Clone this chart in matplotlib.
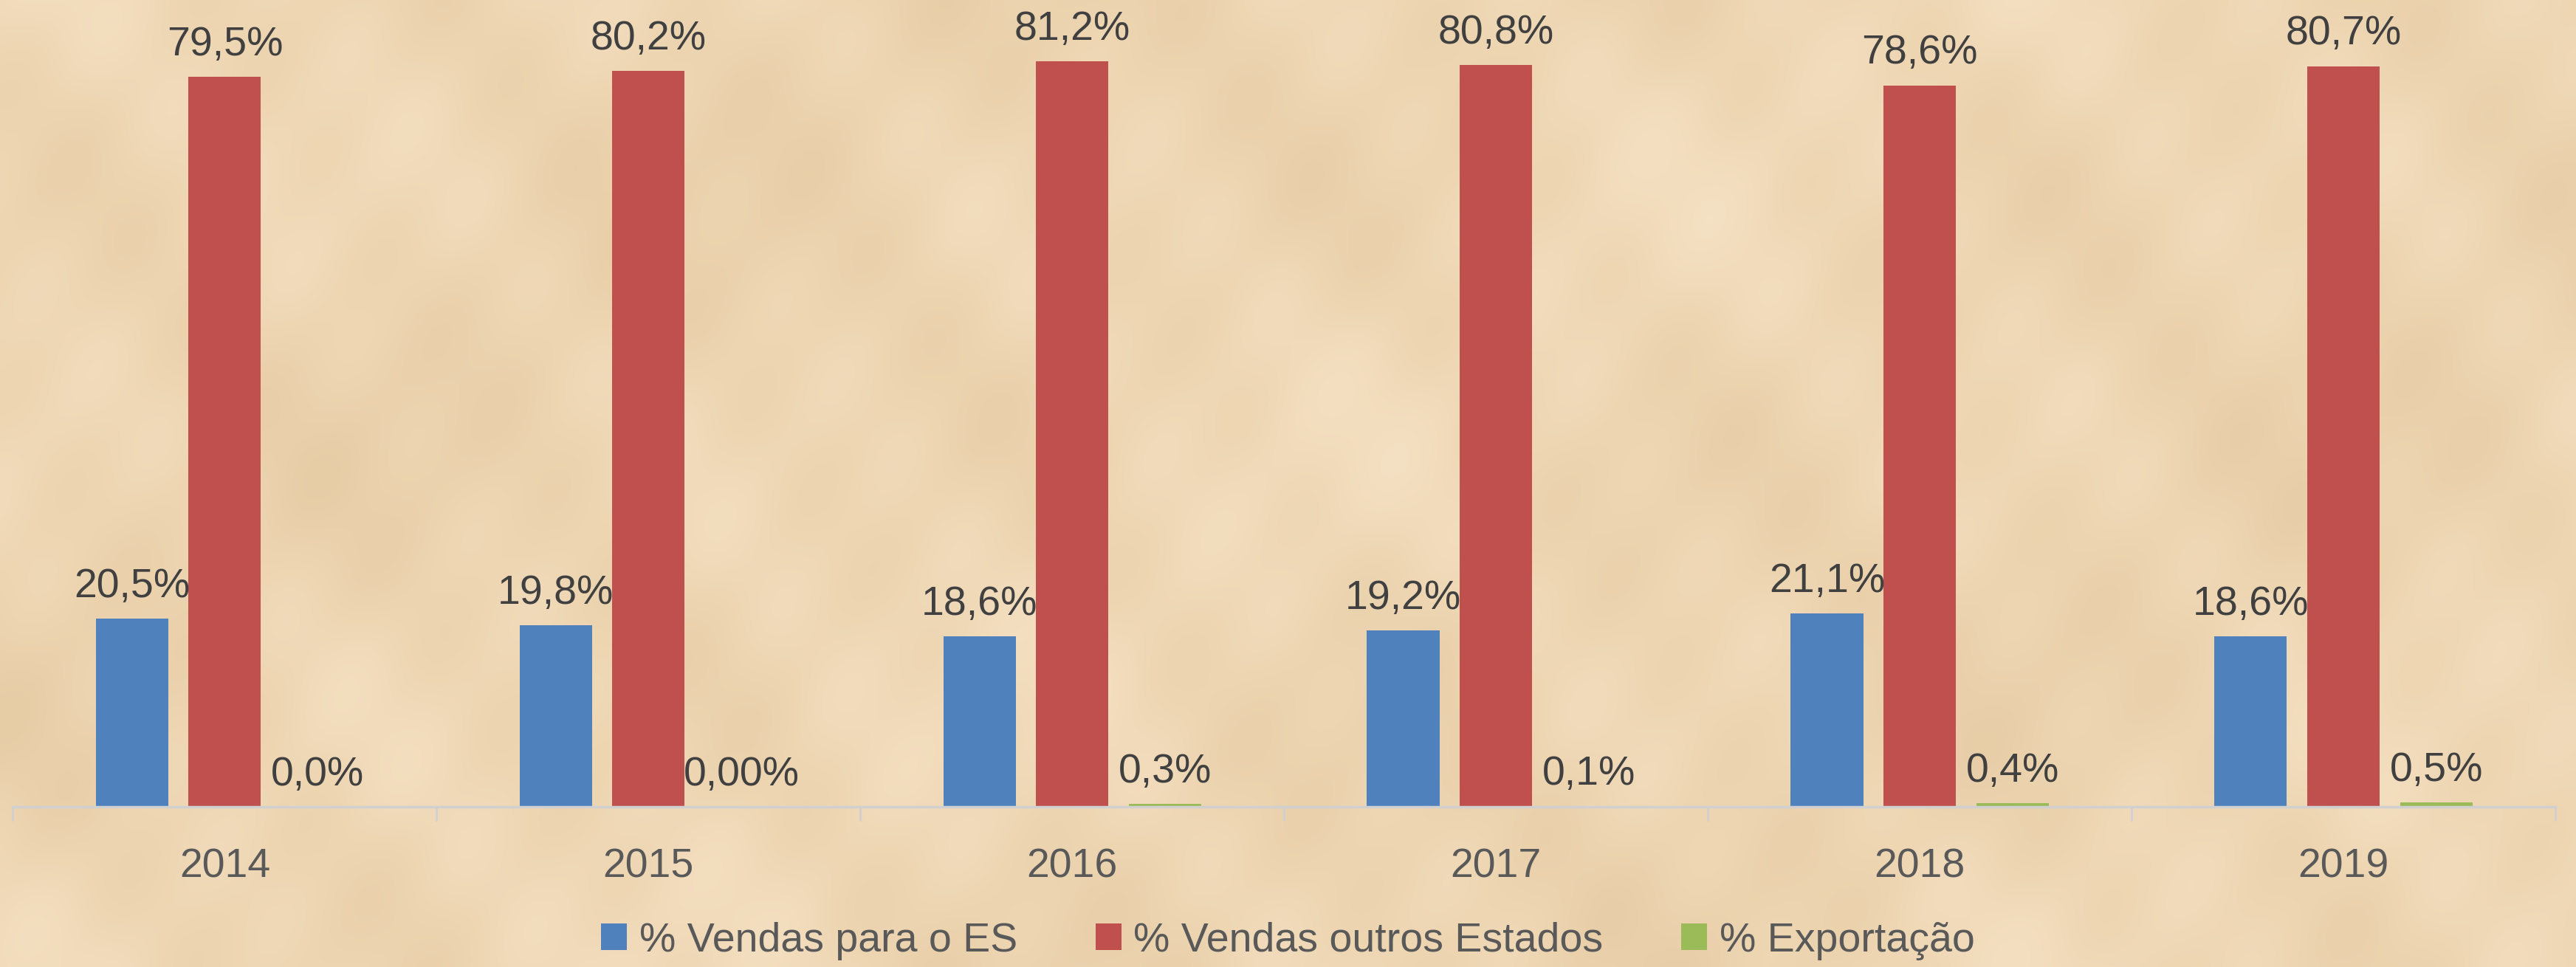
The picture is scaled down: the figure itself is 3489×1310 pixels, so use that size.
import numpy as np
import matplotlib
matplotlib.use('Agg')
import matplotlib.pyplot as plt
from matplotlib.patches import Patch
from matplotlib.colors import LinearSegmentedColormap

# 数据
anos = ['2014', '2015', '2016', '2017', '2018', '2019']
vendas_es = [20.5, 19.8, 18.6, 19.2, 21.1, 18.6]
vendas_outros = [79.5, 80.2, 81.2, 80.8, 78.6, 80.7]
exportacao = [0.0, 0.0, 0.3, 0.1, 0.4, 0.5]
rotulos_es = ['20,5%', '19,8%', '18,6%', '19,2%', '21,1%', '18,6%']
rotulos_outros = ['79,5%', '80,2%', '81,2%', '80,8%', '78,6%', '80,7%']
rotulos_exp = ['0,0%', '0,00%', '0,3%', '0,1%', '0,4%', '0,5%']
series = ['% Vendas para o ES', '% Vendas outros Estados', '% Exportação']
cores = ['#4F81BD', '#C0504D', '#9BBB59']

plt.rcParams['font.family'] = ['Liberation Sans', 'DejaVu Sans']

fig = plt.figure(figsize=(34.89, 13.10), dpi=100)
fig.patch.set_facecolor('#EDD5B1')

# 羊皮纸背景（平滑的明暗变化）
bg = fig.add_axes([0, 0, 1, 1], zorder=-1)
gx, gy = np.meshgrid(np.linspace(0, 34.89, 700), np.linspace(0, 13.1, 263))
textura = (np.sin(gx * 0.7 + 1.3) * np.cos(gy * 0.9) + 0.6 * np.sin(gx * 1.9 + gy * 1.4)
           + 0.3 * np.cos(gx * 3.7 - gy * 2.9) + 0.5 * np.sin(gx * 0.25 - gy * 0.4))
papel = LinearSegmentedColormap.from_list('papel', ['#E7CDA6', '#EED6B3', '#F4E0C2'])
bg.imshow(textura, cmap=papel, aspect='auto', interpolation='bicubic', origin='lower')
bg.axis('off')

ax = fig.add_axes([0.005, 0.1656, 0.987, 0.8344])
ax.set_facecolor('none')

x = np.arange(len(anos))
largura = 0.171
passo = 0.219
valores = [vendas_es, vendas_outros, exportacao]
rotulos = [rotulos_es, rotulos_outros, rotulos_exp]
for i, (vals, labs, cor) in enumerate(zip(valores, rotulos, cores)):
    pos = x + (i - 1) * passo
    ax.bar(pos, vals, width=largura, color=cor, zorder=2)
    for xp, v, t in zip(pos, vals, labs):
        ax.annotate(t, (xp, v), xytext=(0, 21), textcoords='offset points',
                    ha='center', va='baseline', fontsize=40, color='#404040')

ax.set_xlim(-0.5, len(anos) - 0.5)
ax.set_ylim(0, 87.9)

# 轴线与刻度
for s in ['top', 'right', 'left']:
    ax.spines[s].set_visible(False)
ax.spines['bottom'].set_color('#D0D0D0')
ax.spines['bottom'].set_linewidth(2.5)
ax.set_yticks([])
ax.set_xticks(np.arange(len(anos) + 1) - 0.5, minor=True)
ax.set_xticks(x)
ax.set_xticklabels(anos, fontsize=40, color='#595959')
ax.tick_params(axis='x', which='major', length=0, pad=40)
ax.tick_params(axis='x', which='minor', length=14, width=2, color='#D0D0D0')

# 图例
handles = [Patch(facecolor=c, edgecolor='none') for c in cores]
fig.legend(handles, series, loc='center', bbox_to_anchor=(0.5, 0.027), ncol=3,
           frameon=False, fontsize=40, labelcolor='#595959',
           handlelength=0.63, handleheight=0.63, handletextpad=0.3,
           columnspacing=1.9)

plt.savefig('out.png', dpi=100, facecolor=fig.get_facecolor())
